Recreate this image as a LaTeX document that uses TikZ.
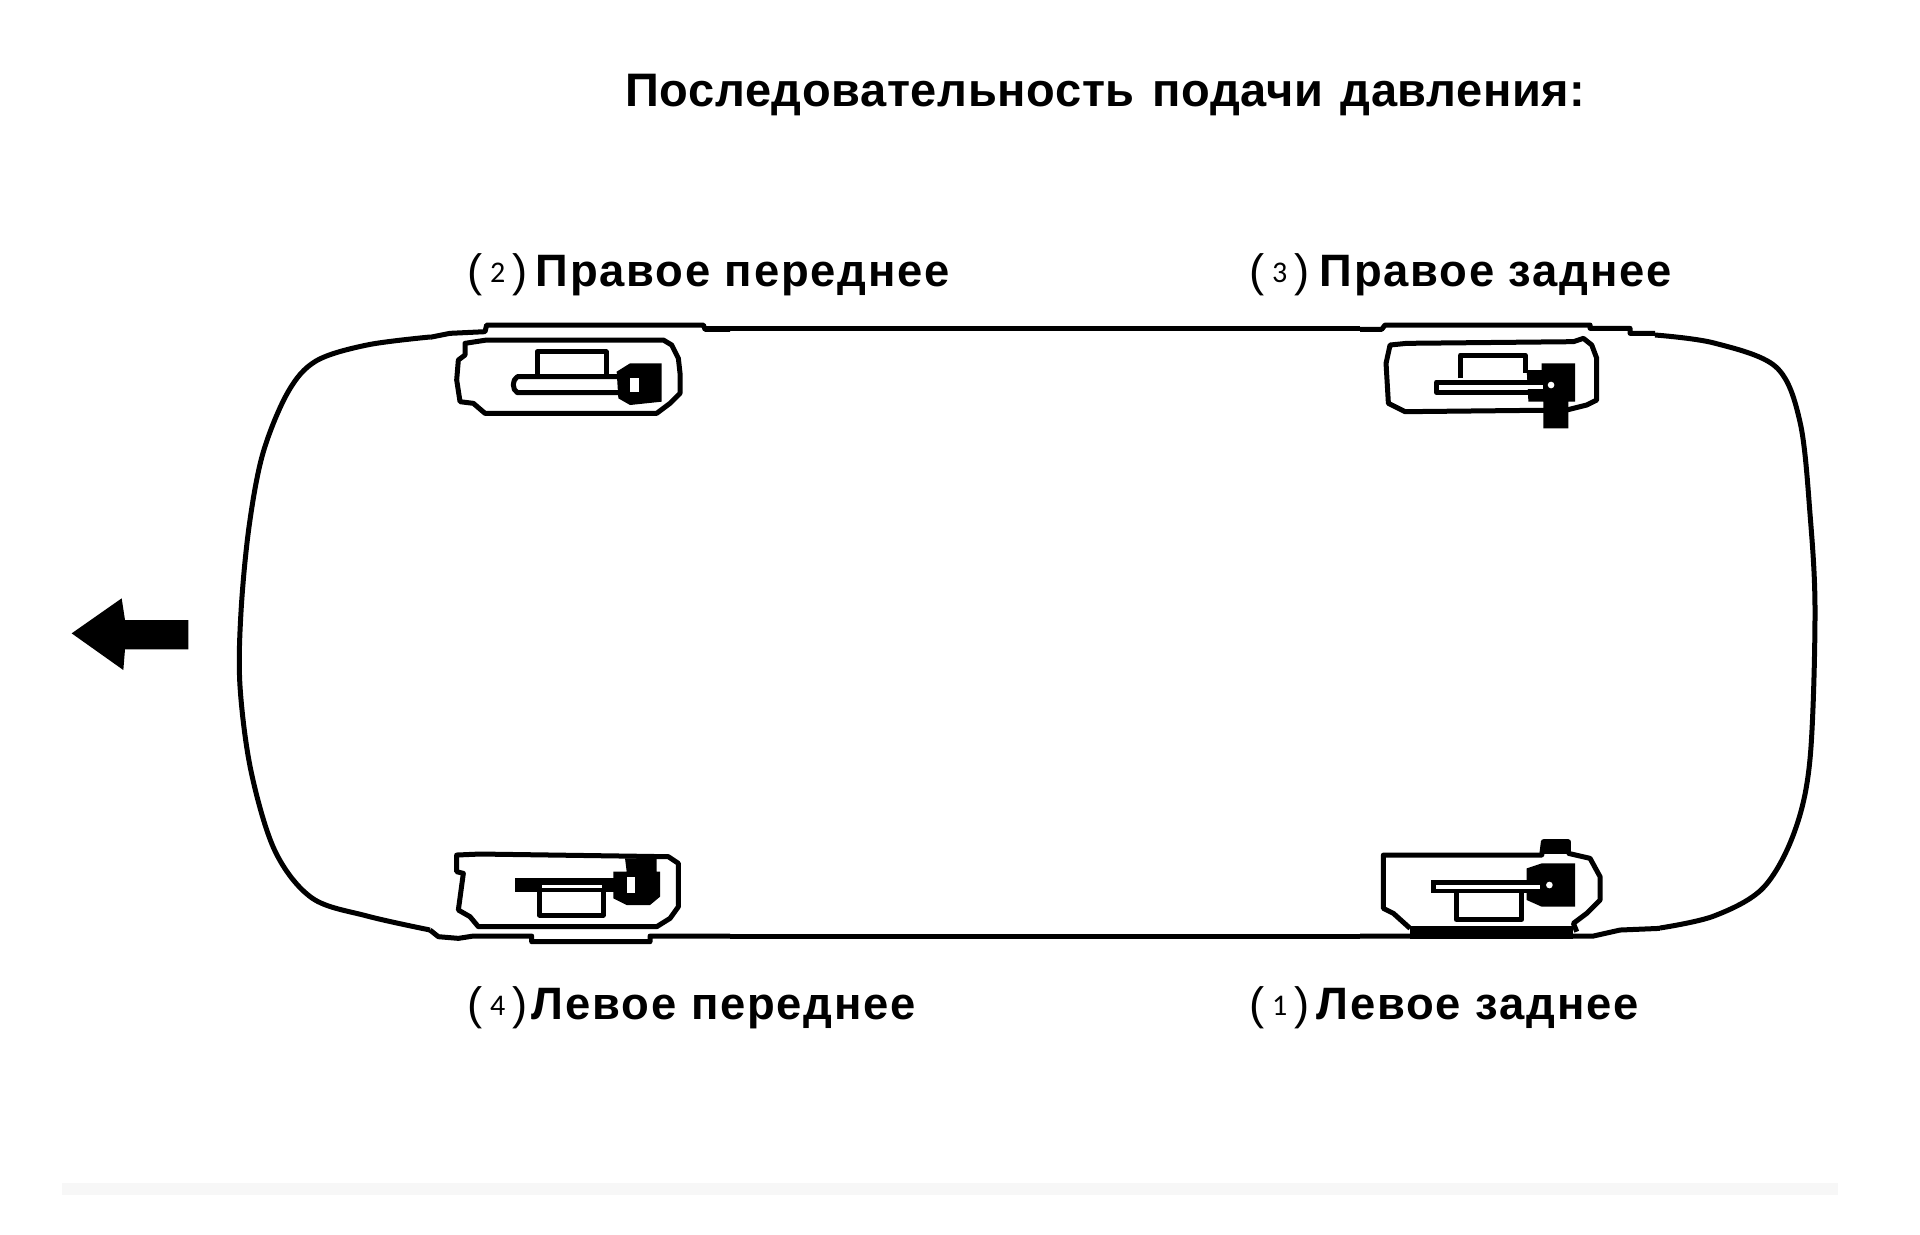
\documentclass[tikz,border=0pt]{standalone}
\usepackage{fontspec}
\setmainfont{Liberation Sans}
\newfontfamily\lblfont[LetterSpace=4]{Liberation Sans}
\newfontfamily\ttlfont[LetterSpace=1.3,WordSpace=1.3]{Liberation Sans}
\newfontfamily\numfont{Carlito}
\begin{document}
\begin{tikzpicture}[x=0.5pt,y=-0.5pt,line join=round,
  titlestyle/.style={inner sep=0,font=\ttlfont\bfseries\fontsize{23.5}{26}\selectfont,anchor=base west},
  lblstyle/.style={inner sep=0,font=\lblfont\bfseries\fontsize{22.7}{26}\selectfont,anchor=base west},
  bodyline/.style={line width=2.5pt,black},
  wheelline/.style={line width=2.5pt,black},
  zoomed/.style={x=0.16667pt,y=-0.16667pt,shift={#1}}]
\newcommand{\lbl}[3]{{\fontseries{m}\selectfont(\,{\numfont\fontsize{15}{15}\selectfont\raisebox{2pt}{#1}}\,)}\hspace{#3}\,#2}
\useasboundingbox (0,0) rectangle (1920,1235);
\fill[white] (0,0) rectangle (1920,1235);
\fill[black!3] (62,1183) rectangle (1838,1195);
% labels
\node[titlestyle] (title) at (625,107) {Последовательность подачи давления:};
\node[lblstyle] (fr) at (467,287) {\lbl{2}{Правое переднее}{0pt}};
\node[lblstyle] (rr) at (1249,287) {\lbl{3}{Правое заднее}{1pt}};
\node[lblstyle] (fl) at (467,1019) {\lbl{4}{Левое переднее}{-1.8pt}};
\node[lblstyle] (rl) at (1249,1019) {\lbl{1}{Левое заднее}{-0.5pt}};
% body
\draw[bodyline] plot[smooth,tension=0.55] coordinates {(430,337) (367,345) (316,361) (288,392) (263,453) (249,527) (241,612) (240,686) (251,771) (275,851) (312,898) (367,916) (430,930)};
\draw[bodyline] plot[smooth,tension=0.55] coordinates {(1660,928) (1714,916) (1763,888) (1794,833) (1810,759) (1815,612) (1810,514) (1800,422) (1776,367) (1714,343) (1655,335)};
\draw[bodyline] (703,329) -- (1360,329);
\draw[bodyline] (730,936) -- (1360,936);
% front right wheel
\begin{scope}[zoomed={(1290,690)}]
\draw[bodyline] (0,322) -- (60,310) -- (165,305) -- (170,285) -- (820,285) -- (825,298) -- (900,298);
\draw[wheelline] (105,340) -- (170,330) -- (700,330) -- (725,345) -- (745,385) -- (750,430) -- (750,490) -- (720,520) -- (680,550) -- (165,550) -- (130,520) -- (90,515) -- (80,450) -- (85,390) -- (105,375) -- cycle;
\draw[wheelline] (322,435) -- (322,365) -- (528,365) -- (528,435);
\draw[wheelline] (580,440) -- (262,440) to[bend right=60] (262,488) -- (580,488);
\fill (560,425) -- (600,400) -- (695,400) -- (695,515) -- (600,525) -- (565,505) -- cycle;
\fill[white] (600,445) rectangle (628,485);
\end{scope}
% rear right wheel
\begin{scope}[zoomed={(4080,690)}]
\draw[bodyline] (0,298) -- (65,298) -- (75,285) -- (690,285) -- (690,295) -- (810,295) -- (810,310) -- (885,310);
\draw[wheelline] (90,345) -- (140,340) -- (640,335) -- (670,325) -- (695,345) -- (710,385) -- (710,510) -- (680,525) -- (620,540) -- (135,545) -- (85,520) -- (78,400) -- cycle;
\draw[wheelline] (302,445) -- (302,375) -- (495,375) -- (495,430);
\draw[wheelline] (520,456) -- (230,456) -- (230,488) -- (520,488);
\fill (500,420) -- (545,420) -- (545,400) -- (645,400) -- (645,515) -- (625,515) -- (625,595) -- (550,595) -- (550,515) -- (505,515) -- cycle;
\fill[white] (245,464) rectangle (548,476);
\fill[white] (573,465) circle (10);
\end{scope}
% front left wheel
\begin{scope}[zoomed={(1290,2490)}]
\draw[bodyline] (0,300) -- (25,320) -- (85,325) -- (130,318) -- (305,318) -- (305,335) -- (660,335) -- (660,318) -- (900,318);
\draw[wheelline] (80,75) -- (150,72) -- (715,80) -- (745,100) -- (745,230) -- (720,265) -- (680,290) -- (145,290) -- (120,260) -- (85,240) -- (100,130) -- (80,125) -- cycle;
\fill (255,145) rectangle (560,185);
\draw[wheelline] (328,175) -- (328,255) -- (520,255) -- (520,175);
\fill (550,125) -- (590,125) -- (585,85) -- (680,85) -- (680,125) -- (690,125) -- (690,200) -- (660,225) -- (590,225) -- (550,205) -- cycle;
\fill[white] (335,165) rectangle (515,175);
\fill[white] (592,142) rectangle (615,188);
\end{scope}
% rear left wheel
\begin{scope}[zoomed={(4080,2490)}]
\draw[bodyline] (0,318) -- (700,318) -- (780,300) -- (900,295);
\fill (150,288) rectangle (640,328);
\draw[wheelline] (150,295) -- (100,250) -- (70,235) -- (70,75) -- (545,75) -- (550,35) -- (625,35) -- (625,70) -- (690,85) -- (720,140) -- (720,210) -- (680,250) -- (640,280) -- (650,305);
\fill (550,35) rectangle (625,72);
\fill (212,150) rectangle (510,190);
\draw[wheelline] (288,190) -- (288,268) -- (485,268) -- (485,190);
\fill (500,115) -- (545,100) -- (645,100) -- (645,230) -- (545,230) -- (500,210) -- cycle;
\fill[white] (228,165) rectangle (540,178);
\fill[white] (568,165) circle (10);
\end{scope}
% direction arrow
\begin{scope}[zoomed={(150,1740)}]
\fill (65,160) -- (215,55) -- (225,120) -- (415,120) -- (415,208) -- (225,208) -- (220,270) -- cycle;
\end{scope}
\end{tikzpicture}
\end{document}
